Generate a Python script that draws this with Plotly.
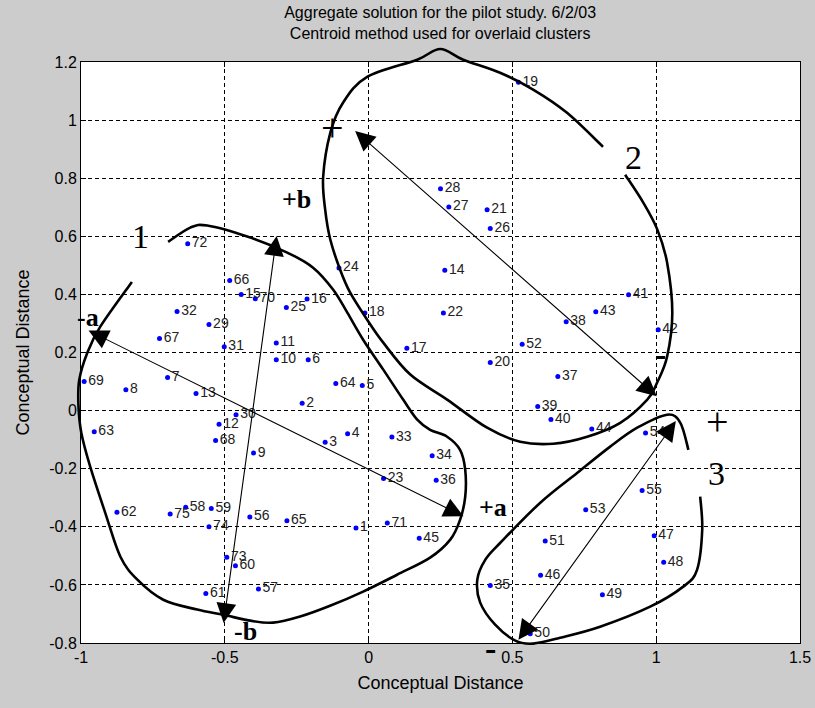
import plotly.graph_objects as go

# ---------------- data ----------------
point_labels = [str(i) for i in range(1, 76)]
x_vals = [-0.044, -0.231, -0.151, -0.073, -0.022, -0.210, -0.699, -0.844, -0.400, -0.321,
          -0.321, -0.520, -0.600, 0.265, -0.443, -0.214, 0.133, -0.013, 0.521, 0.423,
          0.412, 0.260, 0.052, -0.103, -0.286, 0.423, 0.279, 0.250, -0.555, -0.461,
          -0.502, -0.666, 0.081, 0.221, 0.423, 0.235, 0.658, 0.687, 0.588, 0.634,
          0.904, 1.007, 0.790, 0.776, 0.176, 0.598, 0.993, 1.026, 0.813, 0.562,
          0.614, 0.534, 0.755, 0.963, 0.951, -0.413, -0.383, -0.636, -0.547, -0.463,
          -0.566, -0.875, -0.954, -0.114, -0.284, -0.483, -0.727, -0.532, -0.989, -0.394,
          0.065, -0.629, -0.493, -0.555, -0.690]
y_vals = [-0.404, 0.025, -0.109, -0.080, 0.086, 0.175, 0.114, 0.072, -0.146, 0.175,
          0.233, -0.047, 0.059, 0.483, 0.400, 0.384, 0.215, 0.336, 1.130, 0.166,
          0.691, 0.336, -0.234, 0.491, 0.355, 0.627, 0.701, 0.764, 0.296, -0.014,
          0.220, 0.341, -0.091, -0.155, -0.602, -0.240, 0.117, 0.306, 0.014, -0.031,
          0.399, 0.278, 0.340, -0.063, -0.439, -0.567, -0.431, -0.522, -0.634, -0.768,
          -0.449, 0.228, -0.341, -0.077, -0.275, -0.366, -0.614, -0.333, -0.337, -0.534,
          -0.630, -0.350, -0.073, 0.093, -0.379, 0.448, 0.248, -0.103, 0.100, 0.385,
          -0.387, 0.574, -0.505, -0.400, -0.356]

x_ticks = [-1, -0.5, 0, 0.5, 1, 1.5]
x_ticktext = ["-1", "-0.5", "0", "0.5", "1", "1.5"]
y_ticks = [-0.8, -0.6, -0.4, -0.2, 0, 0.2, 0.4, 0.6, 0.8, 1.0, 1.2]
y_ticktext = ["-0.8", "-0.6", "-0.4", "-0.2", "0", "0.2", "0.4", "0.6", "0.8", "1", "1.2"]

# hand-drawn cluster outlines (data units)
cluster1 = [(-0.697, 0.581), (-0.620, 0.630), (-0.561, 0.637), (-0.422, 0.599), (-0.283, 0.544),
            (-0.193, 0.492), (-0.123, 0.416), (-0.074, 0.337), (-0.019, 0.244), (0.051, 0.141),
            (0.120, 0.038), (0.169, -0.031), (0.214, -0.066), (0.273, -0.090), (0.318, -0.135),
            (0.336, -0.204), (0.336, -0.296), (0.318, -0.376), (0.284, -0.444), (0.214, -0.506),
            (0.099, -0.565), (-0.019, -0.623), (-0.134, -0.672), (-0.238, -0.709), (-0.332, -0.730),
            (-0.412, -0.723), (-0.505, -0.703), (-0.596, -0.685), (-0.714, -0.651), (-0.804, -0.582),
            (-0.863, -0.503), (-0.916, -0.351), (-0.968, -0.193), (-0.999, -0.076), (-1.009, 0.020),
            (-1.006, 0.106), (-0.978, 0.199), (-0.933, 0.289), (-0.823, 0.443)]
cluster2 = [(0.815, 0.908), (0.690, 1.025), (0.572, 1.105), (0.457, 1.163), (0.329, 1.208),
            (0.249, 1.245), (0.169, 1.208), (-0.005, 1.149), (-0.089, 1.060), (-0.133, 0.957),
            (-0.158, 0.805), (-0.151, 0.692), (-0.133, 0.588), (-0.099, 0.485), (-0.064, 0.406),
            (-0.005, 0.313), (0.051, 0.234), (0.145, 0.124), (0.273, 0.038), (0.412, -0.059),
            (0.527, -0.107), (0.642, -0.114), (0.760, -0.090), (0.875, -0.042), (0.969, 0.038),
            (1.003, 0.096), (1.038, 0.186), (1.056, 0.337), (1.038, 0.509), (1.004, 0.623),
            (0.955, 0.716), (0.892, 0.812)]
cluster3 = [(1.153, -0.296), (1.160, -0.410), (1.142, -0.548), (1.094, -0.606), (0.979, -0.675),
            (0.805, -0.744), (0.666, -0.782), (0.572, -0.802), (0.510, -0.792), (0.440, -0.737),
            (0.388, -0.661), (0.378, -0.582), (0.406, -0.513), (0.458, -0.455), (0.597, -0.317),
            (0.726, -0.214), (0.840, -0.124), (0.934, -0.059), (1.038, -0.014), (1.084, -0.042),
            (1.112, -0.135)]

# double-headed arrows: (x_start, y_start, x_end, y_end)
arrows = [(-0.979, 0.278, 0.330, -0.364),
          (-0.319, 0.606, -0.504, -0.731),
          (-0.052, 0.967, 1.002, 0.049),
          (1.072, -0.031, 0.521, -0.789)]

# text marks: (text, x, y, size, bold)
marks = [("1", -0.794, 0.599, 34, False), ("2", 0.920, 0.871, 34, False),
         ("3", 1.208, -0.217, 34, False),
         ("+b", -0.252, 0.726, 26, True), ("-a", -0.975, 0.322, 26, True),
         ("+a", 0.432, -0.334, 26, True), ("-b", -0.429, -0.761, 26, True),
         ("+", -0.126, 0.976, 40, False), ("+", 1.212, -0.036, 40, False),
         ("-", 1.014, 0.192, 34, True), ("-", 0.423, -0.820, 34, True)]

X0, X1, Y0, Y1 = -1.0, 1.5, -0.8, 1.2
SANS = "Liberation Sans, Arial, sans-serif"


def to_paper(x, y):
    return (x - X0) / (X1 - X0), (y - Y0) / (Y1 - Y0)


def smooth_path(pts):
    p = [to_paper(*q) for q in pts]
    n = len(p)
    d = "M %.5f,%.5f" % p[0]
    for i in range(n - 1):
        p0 = p[i - 1] if i > 0 else p[i]
        p1 = p[i]
        p2 = p[i + 1]
        p3 = p[i + 2] if i + 2 < n else p[i + 1]
        c1 = (p1[0] + (p2[0] - p0[0]) / 6, p1[1] + (p2[1] - p0[1]) / 6)
        c2 = (p2[0] - (p3[0] - p1[0]) / 6, p2[1] - (p3[1] - p1[1]) / 6)
        d += " C %.5f,%.5f %.5f,%.5f %.5f,%.5f" % (c1[0], c1[1], c2[0], c2[1], p2[0], p2[1])
    return d


fig = go.Figure()
fig.add_trace(go.Scatter(
    x=x_vals, y=y_vals, mode="markers+text", text=point_labels,
    textposition="middle right",
    textfont=dict(family=SANS, size=14, color="#222222"),
    marker=dict(color="#0000ff", size=5),
    cliponaxis=False, hoverinfo="skip", showlegend=False))

shapes = []
for c in (cluster1, cluster2, cluster3):
    shapes.append(dict(type="path", path=smooth_path(c), xref="paper", yref="paper",
                       line=dict(color="black", width=2.6), layer="above"))

annotations = []
for xs, ys, xe, ye in arrows:
    annotations.append(dict(x=xe, y=ye, ax=xs, ay=ys, xref="x", yref="y", axref="x", ayref="y",
                            text="", showarrow=True, arrowhead=2, startarrowhead=2,
                            arrowside="end+start", arrowsize=3.6, startarrowsize=3.6,
                            arrowwidth=1.1, arrowcolor="black"))
for t, x, y, s, b in marks:
    px, py = to_paper(x, y)
    annotations.append(dict(x=px, y=py, xref="paper", yref="paper", showarrow=False,
                            text="<b>%s</b>" % t if b else t,
                            font=dict(family="Liberation Serif, Times New Roman, serif",
                                      size=s, color="black"),
                            xanchor="center", yanchor="middle"))

axis_common = dict(showgrid=True, gridcolor="black", griddash="4px,3px", gridwidth=1,
                   showline=True, linecolor="black", linewidth=1, mirror="allticks",
                   ticks="inside", ticklen=5, tickcolor="black", zeroline=False,
                   tickfont=dict(family=SANS, size=16, color="black"),
                   title_font=dict(family=SANS, size=18, color="black"))

fig.update_layout(
    width=815, height=708, autosize=False,
    margin=dict(l=81, r=15, t=62, b=65, autoexpand=False),
    paper_bgcolor="#cccccc", plot_bgcolor="white",
    title=dict(text="Aggregate solution for the pilot study. 6/2/03<br>Centroid method used for overlaid clusters",
               x=0.4995, xref="paper", xanchor="center", y=0.974, yref="container", yanchor="top",
               font=dict(family=SANS, size=16, color="black")),
    xaxis=dict(range=[X0, X1], tickvals=x_ticks, ticktext=x_ticktext,
               title=dict(text="Conceptual Distance", standoff=11), **axis_common),
    yaxis=dict(range=[Y0, Y1], tickvals=y_ticks, ticktext=y_ticktext,
               title=dict(text="Conceptual Distance", standoff=14), **axis_common),
    shapes=shapes, annotations=annotations,
)

fig.write_html("out.html", config={"displayModeBar": False},
               post_script="document.body.style.margin='0';document.body.style.overflow='hidden';")
